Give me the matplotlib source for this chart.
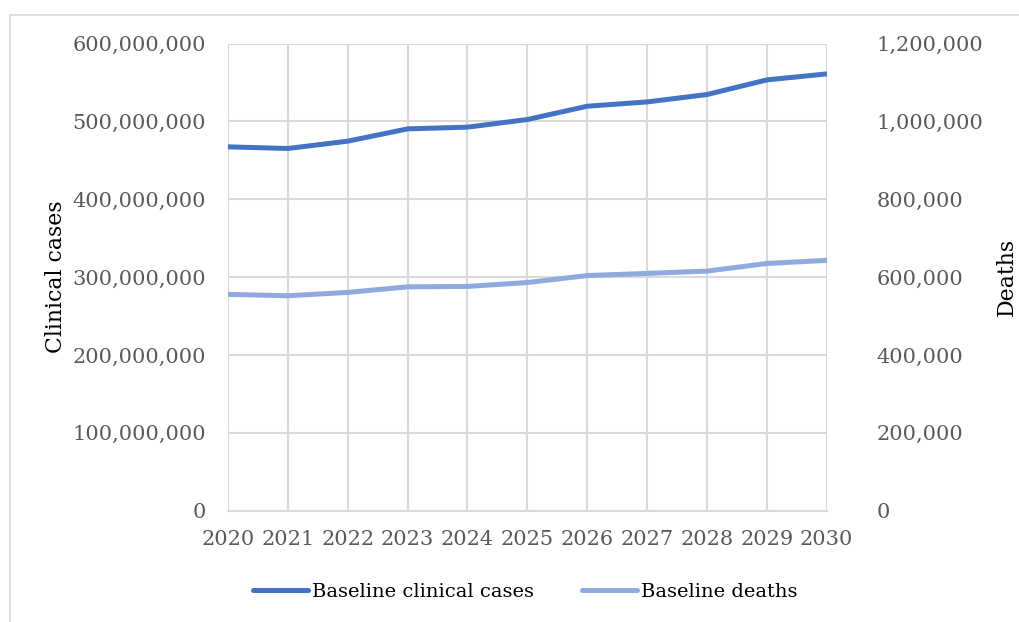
import matplotlib
matplotlib.use("Agg")
import matplotlib.pyplot as plt
from matplotlib.patches import Rectangle
from matplotlib.ticker import FuncFormatter

years = [2020, 2021, 2022, 2023, 2024, 2025, 2026, 2027, 2028, 2029, 2030]
clinical_cases = [467.3e6, 465.2e6, 474.6e6, 490.4e6, 492.6e6, 502.4e6,
                  519.5e6, 525.0e6, 534.5e6, 553.3e6, 561.0e6]
deaths = [555.6e3, 552.0e3, 560.7e3, 575.0e3, 576.0e3, 586.0e3,
          604.0e3, 609.5e3, 615.4e3, 635.0e3, 643.0e3]

plt.rcParams['font.family'] = ['DejaVu Serif']
tick_color = '#595959'
grid_color = '#D9D9D9'

fig = plt.figure(figsize=(10.2, 6.22), dpi=100)
ax = fig.add_axes([0.2235, 0.179, 0.587, 0.751])
ax2 = ax.twinx()

# chart frame
fig.patches.append(Rectangle((10 / 1020, -0.01), 1.02, 1 - 15 / 622 + 0.01,
                             transform=fig.transFigure, fill=False,
                             edgecolor=grid_color, linewidth=1.2))

l1, = ax.plot(years, clinical_cases, color='#4472C4', lw=3.6,
              solid_capstyle='round', solid_joinstyle='round',
              label='Baseline clinical cases', zorder=3)
l2, = ax2.plot(years, deaths, color='#8FAADC', lw=3.6,
               solid_capstyle='round', solid_joinstyle='round',
               label='Baseline deaths', zorder=3)

ax.set_xlim(years[0], years[-1])
ax.set_ylim(0, 600e6)
ax2.set_ylim(0, 1.2e6)
ax.set_xticks(years)
ax.set_yticks(range(0, 600000001, 100000000))
ax2.set_yticks(range(0, 1200001, 200000))

fmt = FuncFormatter(lambda v, p: f'{int(v):,}')
ax.yaxis.set_major_formatter(fmt)
ax2.yaxis.set_major_formatter(fmt)

ax.grid(True, color=grid_color, lw=1.5)
ax.set_axisbelow(True)
for a in (ax, ax2):
    for s in a.spines.values():
        s.set_visible(False)
    a.tick_params(length=0, labelsize=15, colors=tick_color)
ax.spines['bottom'].set_visible(True)
ax.spines['bottom'].set_color(grid_color)
ax.spines['bottom'].set_linewidth(1.5)
ax.tick_params(axis='y', pad=16)
ax.tick_params(axis='x', pad=14)
ax2.tick_params(axis='y', pad=36)

ax.set_ylabel('Clinical cases', fontsize=15.8, color='black')
ax2.set_ylabel('Deaths', fontsize=15.8, color='black')
ax.yaxis.set_label_coords(-0.269, 0.5)
ax2.yaxis.set_label_coords(1.283, 0.5)

fig.legend(handles=[l1, l2], loc='center', bbox_to_anchor=(0.515, 0.048),
           ncol=2, frameon=False, fontsize=14, handlelength=2.8,
           handletextpad=0.2, columnspacing=2.5)

fig.savefig('out.png', dpi=100)
